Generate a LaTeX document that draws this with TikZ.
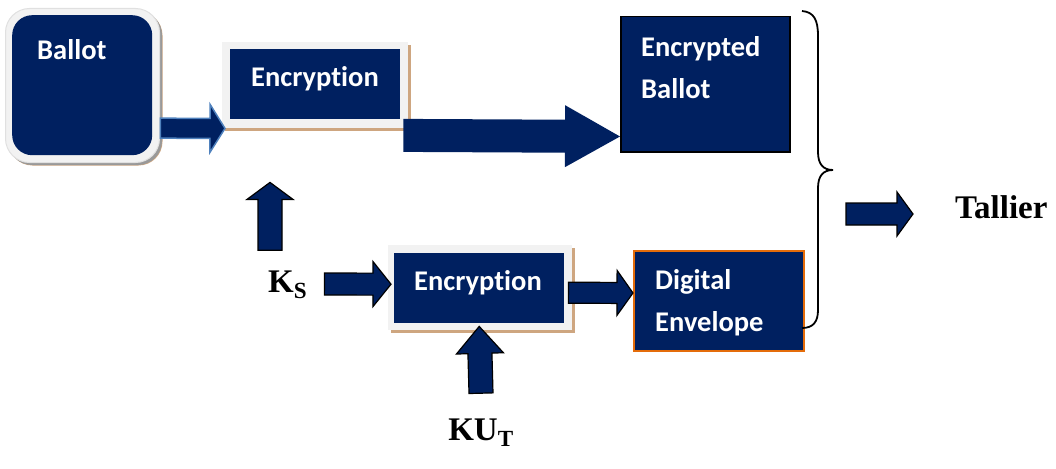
\documentclass[tikz,border=0pt]{standalone}
\usepackage{fontspec}
\setmainfont{Liberation Serif}
\newfontfamily\boxfont[Ligatures={NoCommon}]{Carlito}
\usetikzlibrary{calc,shadows}
\definecolor{navy}{RGB}{0,32,96}
\definecolor{tanshade}{RGB}{206,166,128}
\definecolor{framegray}{RGB}{242,242,242}
\definecolor{edgeblue}{RGB}{79,129,189}
\definecolor{boxorange}{RGB}{228,108,10}
\newcommand{\blockarrow}[6][]{%
  \filldraw[#1] let \p1=($(#3)-(#2)$), \n1={veclen(\x1,\y1)}, \n2={atan2(\y1,\x1)} in
    [shift={(#2)},rotate=\n2]
    (0pt,#4) -- (\n1-#6,#4) -- (\n1-#6,#5) -- (\n1,0pt) -- (\n1-#6,-#5) -- (\n1-#6,-#4) -- (0pt,-#4) -- cycle;}
\begin{document}
\begin{tikzpicture}[x=1pt,y=-1pt,line join=miter,
    inbox/.style={fill=navy,draw=none,inner sep=0pt,anchor=north west},
    frame/.style={fill=framegray,draw=none,inner sep=0pt,anchor=north west,
      drop shadow={shadow xshift=3pt,shadow yshift=-3pt,fill=tanshade,opacity=1}},
    boxtext/.style={font=\boxfont\bfseries\fontsize{28.5}{42}\selectfont,text=white,inner sep=0pt,align=left},
    keytext/.style={font=\bfseries\fontsize{33}{38}\selectfont,inner sep=0pt},
    navyarrow/.style={fill=navy,draw=black,line width=1.2pt},
    bigarrow/.style={fill=navy,draw=none},
    blueedge/.style={fill=navy,draw=edgeblue,line width=1.5pt}]
\useasboundingbox (0,0) rectangle (1056,468);
\node[frame,draw=black!12,line width=1pt,rounded corners=24pt,minimum width=154,minimum height=154,
  drop shadow={shadow xshift=2.5pt,shadow yshift=-2.5pt,fill=black!40,opacity=1}] (ballotframe) at (5,8) {};
\node[inbox,rounded corners=20pt,minimum width=140,minimum height=140] (ballot) at (12,15) {};
\node[boxtext,anchor=north west] (ballottxt) at (37,39) {Ballot};
\node[frame,minimum width=186,minimum height=86] (encframe) at (222,42) {};
\node[inbox,minimum width=170,minimum height=70] (enc) at (230,49) {};
\node[boxtext,anchor=base] (enctxt) at (315,87) {Encryption};
\node[inbox,draw=black,line width=1.5pt,minimum width=169,minimum height=135] (encballot) at (620,16) {};
\node[boxtext,anchor=north west] (encballottxt) at (641,36) {Encrypted\\Ballot};
\node[frame,minimum width=184,minimum height=85] (enctwoframe) at (388,245) {};
\node[inbox,minimum width=170,minimum height=70] (enctwo) at (394,253) {};
\node[boxtext,anchor=base] (enctwotxt) at (478,290) {Encryption};
\node[inbox,draw=boxorange,line width=2pt,minimum width=170,minimum height=100] (digital) at (633,250) {};
\node[boxtext,anchor=north west] (digitaltxt) at (655,269) {Digital\\Envelope};
\node[keytext,anchor=base west] (ks) at (268,292) {K\textsubscript{S}};
\node[keytext,anchor=base] (kut) at (481,440) {KU\textsubscript{T}};
\node[keytext,anchor=base west] (tallier) at (955,218) {Tallier};
\draw[line width=1.8pt] (802,11) .. controls (814,12) and (818,20) .. (818,36) -- (818,152)
  .. controls (818,164) and (823,170) .. (833,170) .. controls (823,170) and (818,176) .. (818,188)
  -- (818,310) .. controls (818,322) and (813,328) .. (802,328);
\blockarrow[blueedge]{$(ballot.east)+(8,43)$}{$(encframe.south west)+(3,0)$}{10pt}{24pt}{15pt}
\blockarrow[bigarrow]{$(encframe.south east)+(-5,7)$}{$(encballot.south west)+(0,-16)$}{16.5pt}{31pt}{55pt}
\blockarrow[navyarrow]{$(ks.north west)+(2,-20)$}{$(encframe.south west)+(48,54)$}{12pt}{23pt}{17pt}
\blockarrow[navyarrow]{$(ks.base east)+(17,-8)$}{$(enctwoframe.west)+(3,-3.5)$}{11pt}{22.5pt}{18pt}
\blockarrow[navyarrow]{$(enctwoframe.east)+(-4,5)$}{$(digital.west)+(0,-8)$}{10.5pt}{22.5pt}{16pt}
\blockarrow[navyarrow]{$(kut.north)+(0,-25)$}{$(enctwo.south)+(0,3)$}{12pt}{23.5pt}{27pt}
\blockarrow[navyarrow]{$(tallier.base west)+(-109,-4)$}{$(tallier.base west)+(-42,-4)$}{11pt}{22pt}{16pt}
\end{tikzpicture}
\end{document}
